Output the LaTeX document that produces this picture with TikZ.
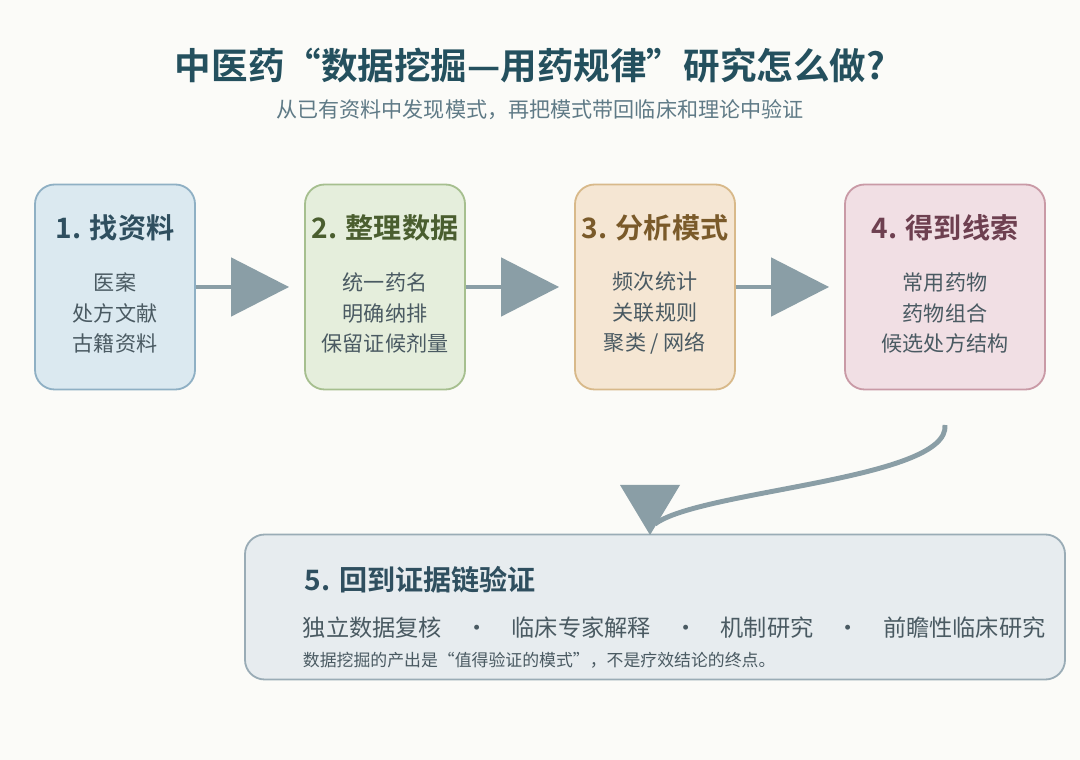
\documentclass[tikz,border=0pt]{standalone}
\usepackage{fontspec}
\setmainfont{Noto Sans CJK SC}[BoldFont={* Bold}]
\usetikzlibrary{arrows.meta,positioning}
\definecolor{bgc}{HTML}{FBFBF8}
\definecolor{titlec}{HTML}{24505E}
\definecolor{subc}{HTML}{5F7A86}
\definecolor{arrc}{HTML}{8A9EA6}
\definecolor{fillA}{HTML}{DBE9F0}\definecolor{drawA}{HTML}{8FB0C4}\definecolor{headA}{HTML}{2F4F5F}
\definecolor{fillB}{HTML}{E5EEDC}\definecolor{drawB}{HTML}{A6BF8F}\definecolor{headB}{HTML}{4A5E2F}
\definecolor{fillC}{HTML}{F5E6D3}\definecolor{drawC}{HTML}{D8B98A}\definecolor{headC}{HTML}{7A5A2A}
\definecolor{fillD}{HTML}{F1DFE4}\definecolor{drawD}{HTML}{C99AA6}\definecolor{headD}{HTML}{6E4050}
\definecolor{fillE}{HTML}{E7ECEF}\definecolor{drawE}{HTML}{9AACB6}
\definecolor{bodyc}{HTML}{4A5A62}
\newcommand{\sepdot}{\hspace{1em}{\char"00B7}\hspace{1em}}
\tikzset{
  stepbox/.style={draw, line width=1.3pt, rounded corners=14pt, minimum height=205*0.025cm},
  head/.style={font=\bfseries\fontsize{20}{24}\selectfont},
  body/.style={font=\fontsize{15}{22}\selectfont, text=bodyc, align=center},
  flow/.style={arrc, line width=3.5pt, -{Triangle[length=1.45cm,width=1.45cm]}, shorten >=15*0.025cm}
}
\begin{document}
\begin{tikzpicture}[x=0.025cm, y=-0.025cm]
  \fill[bgc] (0,0) rectangle (1080,760);
  \useasboundingbox (0,0) rectangle (1080,760);

  \node[text=titlec, font=\bfseries\fontsize{26}{30}\selectfont] (title) at (530,66) {中医药“数据挖掘—用药规律”研究怎么做?};
  \node[text=subc, font=\fontsize{15}{18}\selectfont] (sub) at (540,110) {从已有资料中发现模式，再把模式带回临床和理论中验证};

  % four steps
  \node[stepbox, fill=fillA, draw=drawA, minimum width=160*0.025cm] (s1) at (115,287) {};
  \node[stepbox, fill=fillB, draw=drawB, minimum width=160*0.025cm] (s2) at (385,287) {};
  \node[stepbox, fill=fillC, draw=drawC, minimum width=160*0.025cm] (s3) at (655,287) {};
  \node[stepbox, fill=fillD, draw=drawD, minimum width=200*0.025cm] (s4) at (945,287) {};

  \node[head, text=headA] (h1) at (115,228) {1. 找资料};
  \node[body] (t1) at (115,313) {医案\\处方文献\\古籍资料};
  \node[head, text=headB] (h2) at (385,228) {2. 整理数据};
  \node[body] (t2) at (385,313) {统一药名\\明确纳排\\保留证候剂量};
  \node[head, text=headC] (h3) at (655,228) {3. 分析模式};
  \node[body] (t3) at (655,313) {频次统计\\关联规则\\聚类 / 网络};
  \node[head, text=headD] (h4) at (945,228) {4. 得到线索};
  \node[body] (t4) at (945,313) {常用药物\\药物组合\\候选处方结构};

  \draw[flow] (s1.east) -- (s2.west);
  \draw[flow] (s2.east) -- (s3.west);
  \draw[flow] (s3.east) -- (s4.west);

  % last step
  \node[stepbox, fill=fillE, draw=drawE, minimum width=820*0.025cm, minimum height=145*0.025cm] (s5) at (655,607) {};
  \node[head, text=headA, anchor=west] (h5) at (300,580) {5. 回到证据链验证};
  \node[body, anchor=west, font=\fontsize{16.5}{20}\selectfont] (t5) at (298,628)
    {独立数据复核\sepdot 临床专家解释\sepdot 机制研究\sepdot 前瞻性临床研究};
  \node[body, anchor=west, font=\fontsize{12}{14}\selectfont] (n5) at (298,660)
    {数据挖掘的产出是“值得验证的模式”，不是疗效结论的终点。};

  \coordinate (c4) at (945,425);
  \coordinate (c5) at (655,524);
  \draw[arrc, line width=3.5pt] (c4) .. controls (950,480) and (700,490) .. (c5);
  \fill[arrc] (620,485) -- (680,485) -- (650,535) -- cycle;
\end{tikzpicture}
\end{document}
